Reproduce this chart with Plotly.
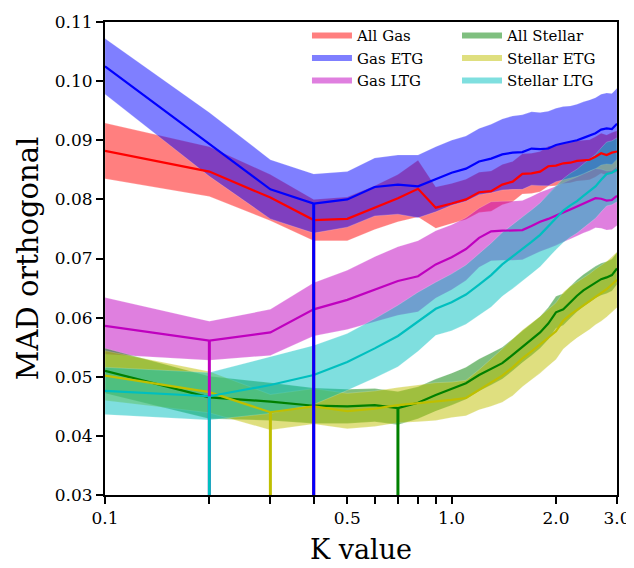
import numpy as np
import plotly.graph_objects as go

K = [0.1, 0.2, 0.3, 0.4, 0.5, 0.6, 0.7, 0.8, 0.9, 1.0,
     1.1, 1.2, 1.3, 1.4, 1.5, 1.6, 1.7, 1.8, 1.9, 2.0,
     2.1, 2.2, 2.3, 2.4, 2.5, 2.6, 2.7, 2.8, 2.9, 3.0]

all_gas = [0.0882, 0.0847, 0.0803, 0.0765, 0.0767, 0.0786, 0.0802, 0.0818, 0.0786, 0.0793,
           0.0800, 0.0812, 0.0814, 0.0825, 0.0830, 0.0843, 0.0844, 0.0847, 0.0856, 0.0857,
           0.0861, 0.0862, 0.0865, 0.0866, 0.0867, 0.0872, 0.0878, 0.0875, 0.0879, 0.0881]
all_gas_err = [0.0047, 0.0042, 0.0039, 0.0035, 0.0037, 0.0037, 0.0040, 0.0048, 0.0035, 0.0034,
               0.0034, 0.0034, 0.0034, 0.0034, 0.0034, 0.0034, 0.0034, 0.0034, 0.0034, 0.0034,
               0.0034, 0.0034, 0.0034, 0.0034, 0.0034, 0.0034, 0.0034, 0.0034, 0.0034, 0.0035]

gas_etg = [0.1025, 0.0893, 0.0817, 0.0793, 0.0800, 0.0821, 0.0825, 0.0822, 0.0834, 0.0845,
           0.0852, 0.0864, 0.0869, 0.0876, 0.0879, 0.0880, 0.0886, 0.0885, 0.0886, 0.0892,
           0.0895, 0.0897, 0.0900, 0.0904, 0.0908, 0.0912, 0.0918, 0.0920, 0.0919, 0.0928]
gas_etg_err = [0.0047, 0.0054, 0.0050, 0.0050, 0.0047, 0.0049, 0.0050, 0.0053, 0.0055, 0.0055,
               0.0055, 0.0056, 0.0058, 0.0060, 0.0062, 0.0063, 0.0062, 0.0062, 0.0063, 0.0062,
               0.0062, 0.0061, 0.0061, 0.0061, 0.0060, 0.0060, 0.0060, 0.0060, 0.0060, 0.0060]

gas_ltg = [0.0586, 0.0561, 0.0575, 0.0614, 0.0630, 0.0648, 0.0662, 0.0670, 0.0690, 0.0702,
           0.0716, 0.0735, 0.0746, 0.0747, 0.0747, 0.0748, 0.0755, 0.0762, 0.0767, 0.0772,
           0.0778, 0.0783, 0.0788, 0.0793, 0.0797, 0.0802, 0.0801, 0.0798, 0.0799, 0.0806]
gas_ltg_err = [0.0048, 0.0033, 0.0039, 0.0045, 0.0050, 0.0055, 0.0058, 0.0060, 0.0057, 0.0055,
               0.0053, 0.0050, 0.0050, 0.0050, 0.0050, 0.0050, 0.0050, 0.0050, 0.0050, 0.0050,
               0.0050, 0.0050, 0.0050, 0.0050, 0.0050, 0.0050, 0.0050, 0.0050, 0.0050, 0.0050]

all_stellar = [0.0510, 0.0465, 0.0458, 0.0451, 0.0450, 0.0452, 0.0447, 0.0456, 0.0469, 0.0479,
               0.0489, 0.0503, 0.0513, 0.0523, 0.0537, 0.0551, 0.0563, 0.0575, 0.0590, 0.0609,
               0.0614, 0.0626, 0.0637, 0.0646, 0.0653, 0.0660, 0.0665, 0.0668, 0.0672, 0.0683]
all_stellar_err = [0.0038, 0.0036, 0.0032, 0.0030, 0.0029, 0.0028, 0.0028, 0.0027, 0.0027, 0.0027,
                   0.0027, 0.0027, 0.0027, 0.0027, 0.0027, 0.0027, 0.0027, 0.0027, 0.0027, 0.0027,
                   0.0027, 0.0027, 0.0027, 0.0027, 0.0027, 0.0027, 0.0027, 0.0027, 0.0027, 0.0027]

stellar_etg = [0.0502, 0.0474, 0.0440, 0.0450, 0.0442, 0.0446, 0.0452, 0.0455, 0.0458, 0.0461,
               0.0464, 0.0478, 0.0490, 0.0502, 0.0516, 0.0531, 0.0543, 0.0554, 0.0566, 0.0577,
               0.0595, 0.0605, 0.0613, 0.0620, 0.0627, 0.0635, 0.0641, 0.0648, 0.0656, 0.0664]
stellar_etg_err = [0.0042, 0.0035, 0.0030, 0.0030, 0.0030, 0.0030, 0.0030, 0.0031, 0.0032, 0.0030,
                   0.0030, 0.0034, 0.0040, 0.0045, 0.0048, 0.0048, 0.0048, 0.0048, 0.0048, 0.0048,
                   0.0048, 0.0048, 0.0047, 0.0047, 0.0047, 0.0047, 0.0047, 0.0047, 0.0047, 0.0047]

stellar_ltg = [0.0476, 0.0467, 0.0486, 0.0503, 0.0525, 0.0548, 0.0569, 0.0593, 0.0615, 0.0626,
               0.0639, 0.0656, 0.0672, 0.0690, 0.0703, 0.0716, 0.0728, 0.0740, 0.0755, 0.0769,
               0.0781, 0.0790, 0.0797, 0.0806, 0.0814, 0.0822, 0.0833, 0.0843, 0.0845, 0.0850]
stellar_ltg_err = [0.0040, 0.0040, 0.0048, 0.0050, 0.0048, 0.0050, 0.0052, 0.0050, 0.0045, 0.0048,
                   0.0050, 0.0052, 0.0054, 0.0054, 0.0054, 0.0054, 0.0054, 0.0054, 0.0054, 0.0054,
                   0.0054, 0.0054, 0.0054, 0.0054, 0.0054, 0.0054, 0.0054, 0.0054, 0.0054, 0.0054]

x_tickvals = [0.1, 0.2, 0.3, 0.4, 0.5, 0.6, 0.7, 0.8, 0.9, 1.0, 2.0, 3.0]
x_ticktext = ["0.1", "", "", "", "0.5", "", "", "", "", "1.0", "2.0", "3.0"]
y_tickvals = [0.03, 0.04, 0.05, 0.06, 0.07, 0.08, 0.09, 0.10, 0.11]
y_min = 0.03

series = [
    ("All Gas", all_gas, all_gas_err, "#ff0000", "rgba(255,0,0,0.5)", "legend"),
    ("Gas ETG", gas_etg, gas_etg_err, "#0000ff", "rgba(0,0,255,0.5)", "legend"),
    ("Gas LTG", gas_ltg, gas_ltg_err, "#bf00bf", "rgba(191,0,191,0.5)", "legend"),
    ("All Stellar", all_stellar, all_stellar_err, "#008000", "rgba(0,128,0,0.5)", "legend2"),
    ("Stellar ETG", stellar_etg, stellar_etg_err, "#bfbf00", "rgba(191,191,0,0.5)", "legend2"),
    ("Stellar LTG", stellar_ltg, stellar_ltg_err, "#00bfbf", "rgba(0,191,191,0.5)", "legend2"),
]

fig = go.Figure()
kx = np.array(K)
for name, m, e, col, fcol, lg in series:
    m = np.array(m); e = np.array(e)
    hi = m + e; lo = m - e
    fig.add_trace(go.Scatter(
        x=list(kx) + list(kx[::-1]), y=list(hi) + list(lo[::-1]),
        fill="toself", fillcolor=fcol, mode="none",
        name=name, legend=lg, hoverinfo="skip"))
    fig.add_trace(go.Scatter(
        x=list(kx) + list(kx[::-1]) + [kx[0]], y=list(hi) + list(lo[::-1]) + [hi[0]],
        mode="lines", line=dict(color="rgba(255,255,255,0.3)", width=0.6),
        showlegend=False, hoverinfo="skip"))

for name, m, e, col, fcol, lg in series:
    fig.add_trace(go.Scatter(x=K, y=m, mode="lines", line=dict(color=col, width=2.2),
                             showlegend=False))

for name, m, e, col, fcol, lg in series:
    i = int(np.argmin(m))
    fig.add_trace(go.Scatter(x=[K[i], K[i]], y=[y_min, m[i]], mode="lines",
                             line=dict(color=col, width=3), showlegend=False))

font_family = "DejaVu Serif"
leg_common = dict(xanchor="left", yanchor="top", font=dict(size=15, family=font_family),
                  bgcolor="rgba(0,0,0,0)", borderwidth=0, itemwidth=40,
                  orientation="v", tracegroupgap=0)
fig.update_layout(
    width=626, height=560,
    margin=dict(l=97, r=17, t=11, b=73),
    paper_bgcolor="white", plot_bgcolor="white",
    font=dict(family=font_family, color="black", size=17),
    showlegend=True,
    legend=dict(x=0.3945, y=1.006, **leg_common),
    legend2=dict(x=0.6875, y=1.006, **leg_common),
    xaxis=dict(type="log", range=[np.log10(0.1), np.log10(3.0)],
               tickvals=x_tickvals, ticktext=x_ticktext, automargin=False,
               ticklabeloverflow="allow",
               ticks="outside", ticklen=7, tickwidth=1.5, tickcolor="black",
               showline=True, linecolor="black", linewidth=2, mirror=True,
               showgrid=False, zeroline=False,
               title=dict(text="K value", font=dict(size=27), standoff=13),
               tickfont=dict(size=17)),
    yaxis=dict(range=[0.03, 0.11], tickvals=y_tickvals, tickformat=".2f",
               automargin=False, ticklabeloverflow="allow",
               ticks="outside", ticklen=7, tickwidth=1.5, tickcolor="black",
               showline=True, linecolor="black", linewidth=2, mirror=True,
               showgrid=False, zeroline=False,
               title=dict(text="MAD orthogonal", font=dict(size=29), standoff=8),
               tickfont=dict(size=17)),
)

fig.write_html("out.html")
